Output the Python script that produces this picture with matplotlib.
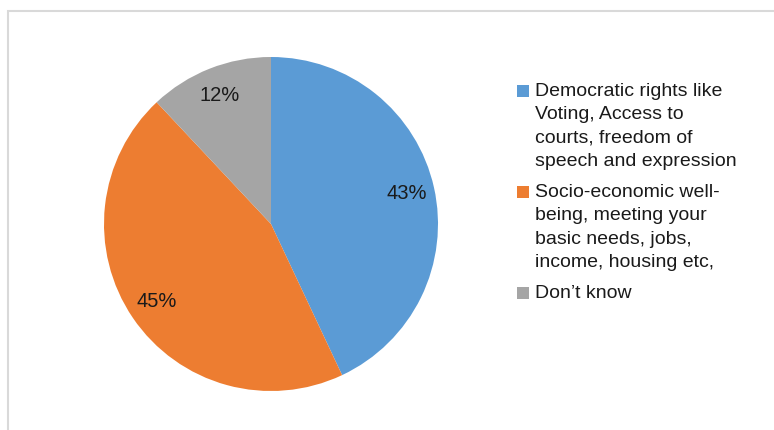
import matplotlib
matplotlib.use("Agg")
import matplotlib.pyplot as plt
from matplotlib.patches import Rectangle

plt.rcParams['font.family'] = ['Liberation Sans', 'DejaVu Sans']

# Survey shares (percent)
categories = [
    "Democratic rights like\nVoting, Access to\ncourts, freedom of\nspeech and expression",
    "Socio-economic well-\nbeing, meeting your\nbasic needs, jobs,\nincome, housing etc,",
    "Don\u2019t know",
]
values = [43, 45, 12]
colors = ["#5B9BD5", "#ED7D31", "#A5A5A5"]

W, H = 774, 430
fig = plt.figure(figsize=(W / 100, H / 100), dpi=100)

# light frame around the chart area
fig.patches.append(Rectangle((8 / W, -0.1), 1.2, (H - 11) / H + 0.1,
                             transform=fig.transFigure, fill=False,
                             edgecolor="#d9d9d9", linewidth=1.5))

# pie axes: centre (271, 224) px, radius 167 px
cx, cy, r = 271, 224, 167
ax = fig.add_axes([(cx - r) / W, (H - cy - r) / H, 2 * r / W, 2 * r / H])
wedges, _, autotexts = ax.pie(
    values, colors=colors, startangle=90, counterclock=False,
    autopct=lambda p: f"{p:.0f}%", pctdistance=0.83, radius=1,
    wedgeprops=dict(linewidth=0),
    textprops=dict(fontsize=14.5, color="#1a1a1a"))
ax.set_xlim(-1, 1)
ax.set_ylim(-1, 1)
ax.set_aspect("equal")
ax.axis("off")

# legend drawn line by line
x_sq, x_txt = 517, 535
y = 96
line_step, entry_gap = 23.2, 31.5
for label, col in zip(categories, colors):
    lines = label.split("\n")
    fig.patches.append(Rectangle((x_sq / W, (H - y - 1) / H), 12 / W, 12 / H,
                                 transform=fig.transFigure,
                                 facecolor=col, edgecolor="none"))
    for i, ln in enumerate(lines):
        fig.text(x_txt / W, (H - (y + i * line_step)) / H, ln,
                 fontsize=14, color="#1a1a1a", va="baseline", ha="left")
    y += (len(lines) - 1) * line_step + entry_gap

fig.savefig("out.png", dpi=100)
